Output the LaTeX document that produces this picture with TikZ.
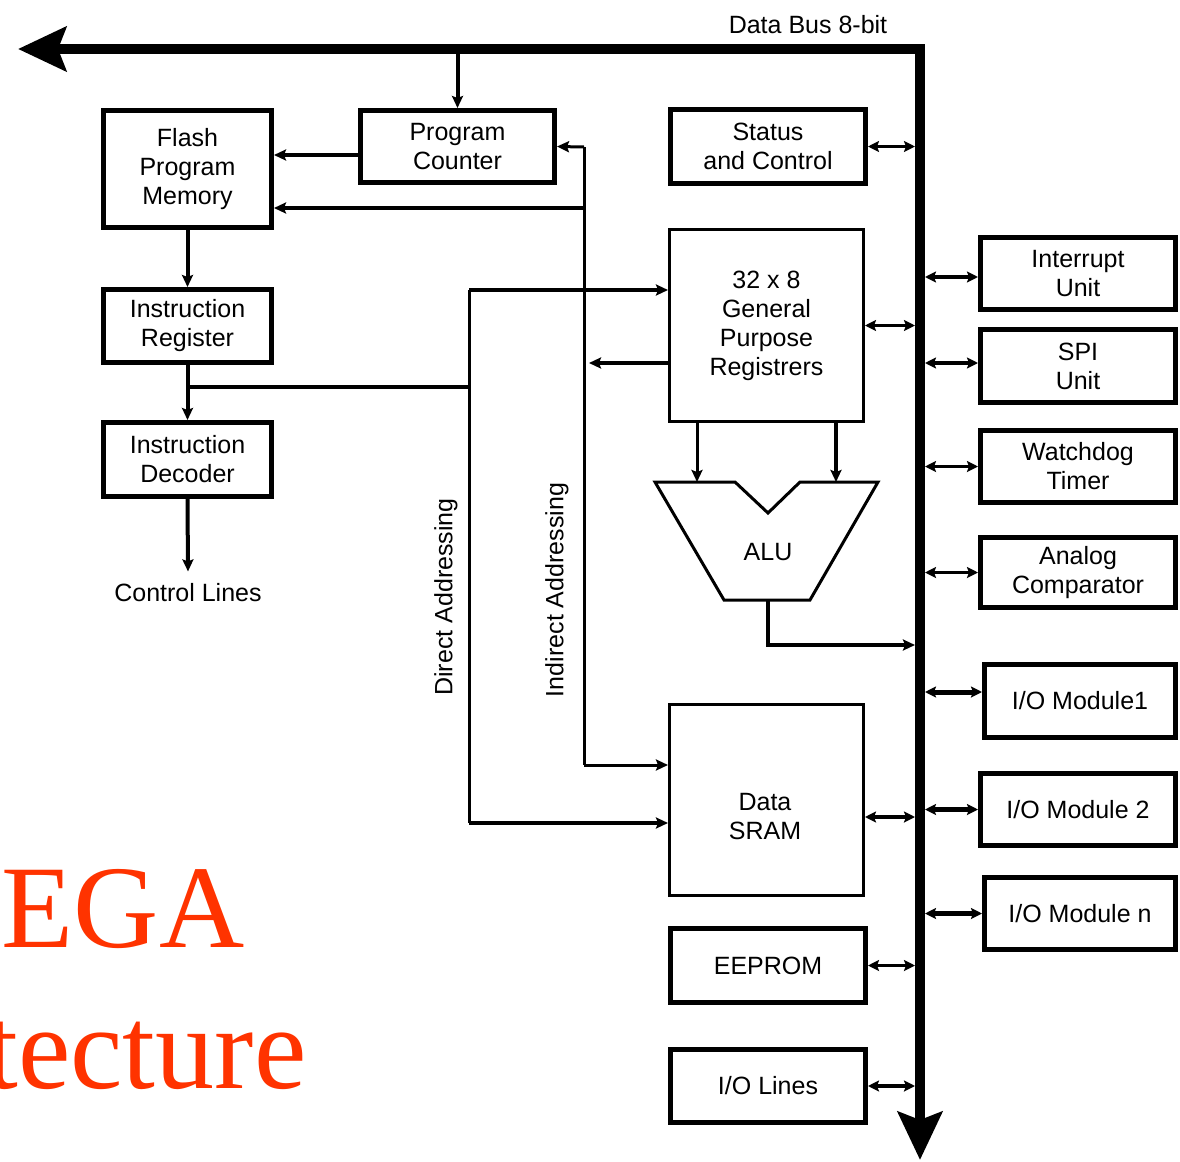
\documentclass[tikz,border=0pt]{standalone}
\usepackage{fontspec}
\setmainfont{Liberation Sans}
\newfontfamily\redserif{Liberation Serif}
\usetikzlibrary{arrows.meta}
\definecolor{slidered}{RGB}{255,51,0}
\begin{document}
\begin{tikzpicture}[x=0.5pt,y=-0.5pt,
  txt/.style={font=\fontsize{12.5}{14.5}\selectfont, align=center},
  tbox/.style={draw, line width=2.5pt, inner sep=0pt, txt},
  nbox/.style={draw, line width=1.5pt, inner sep=0pt, txt},
  ln/.style={line width=1.5pt},
  mid/.style={line width=2pt},
  arr/.style={-{Stealth[length=6pt,width=5.5pt,inset=1pt]}},
  dbl/.style={line width=1.75pt, {Stealth[length=5.5pt,width=5.5pt,inset=1pt]}-{Stealth[length=5.5pt,width=5.5pt,inset=1pt]}},
  bus/.style={line width=5pt, line join=miter, {Stealth[length=24pt,width=22pt,inset=4pt]}-{Stealth[length=24pt,width=22pt,inset=4pt]}},
  redtxt/.style={text=slidered, font=\redserif\fontsize{59}{60}\selectfont, inner sep=0pt}
]
\useasboundingbox (0,0) rectangle (1180,1162);
\clip (0,0) rectangle (1180,1162);

% title fragments
\node[redtxt, anchor=base west] (t1) at (1.5,947) {EGA};
\node[redtxt, anchor=base west] (t2) at (-15,1088) {tecture};

% data bus
\coordinate (busL) at (18,49);
\coordinate (busC) at (920,49);
\coordinate (busB) at (920,1160);
\draw[bus] (busL) -- (busC) -- (busB);
\node[txt] (buslbl) at (808,25) {Data Bus 8-bit};
\coordinate (bl) at (915,0);
\coordinate (br) at (925,0);

% left column
\node[tbox, minimum width=84pt, minimum height=58.5pt] (flash) at (187.5,169) {Flash\\Program\\Memory};
\node[tbox, minimum width=97pt, minimum height=36pt] (pc) at (457.5,146.5) {Program\\Counter};
\node[tbox, minimum width=84pt, minimum height=36.5pt] (ir) at (187.5,326) {Instruction\\Register};
\node[tbox, minimum width=84pt, minimum height=37pt] (id) at (187.5,459.5) {Instruction\\Decoder};
\node[txt, inner sep=0pt] (ctl) at (188,593) {Control Lines};

% middle column
\node[tbox, minimum width=97.5pt, minimum height=37pt] (status) at (768,146.5) {Status\\and Control};
\node[nbox, minimum width=97pt, minimum height=96pt] (gpr) at (766.5,325.5) {32 x 8\\General\\Purpose\\Registrers};
\node[nbox, minimum width=97pt, minimum height=95.5pt] (sram) at (766.5,800) {};
\node[txt] (sramlbl) at (765,817) {Data\\SRAM};
\node[tbox, minimum width=97.5pt, minimum height=37pt] (eeprom) at (768,965.5) {EEPROM};
\node[tbox, minimum width=97.5pt, minimum height=36.5pt] (iol) at (768,1086) {I/O Lines};

% ALU
\draw[ln, line join=miter] (655,482) -- (735,482) -- (768,513) -- (800,482) -- (878,482) -- (810,600) -- (724,600) -- cycle;
\node[txt] (alu) at (768,552) {ALU};
\coordinate (aluin1) at (697,482);
\coordinate (aluin2) at (836,482);
\coordinate (aluout) at (768,600);
\coordinate (alubus) at (915,645);

% right column
\node[tbox, minimum width=97.5pt, minimum height=36pt] (intr) at (1078,273.5) {Interrupt\\Unit};
\node[tbox, minimum width=97.5pt, minimum height=36.5pt] (spi) at (1078,366) {SPI\\Unit};
\node[tbox, minimum width=97.5pt, minimum height=36pt] (wdt) at (1078,466.5) {Watchdog\\Timer};
\node[tbox, minimum width=97.5pt, minimum height=35pt] (ac) at (1078,572.5) {Analog\\Comparator};
\node[tbox, minimum width=95.5pt, minimum height=36.5pt] (io1) at (1080,701) {I/O Module1};
\node[tbox, minimum width=97.5pt, minimum height=36pt] (io2) at (1078,809.5) {I/O Module 2};
\node[tbox, minimum width=95.5pt, minimum height=36pt] (ion) at (1080,913.5) {I/O Module n};

% addressing labels
\node[txt, rotate=90] (dirlbl) at (446,597) {Direct Addressing};
\node[txt, rotate=90] (indlbl) at (557,590) {Indirect Addressing};

% program flow
\draw[mid, arr] (pc.north |- busC) -- (pc.north);
\draw[mid, arr] (pc.west |- flash.east) ++(0,-14) coordinate (pcw) -- (pcw -| flash.east);
\draw[mid, arr] (flash.south) -- (ir.north);
\draw[mid, arr] (ir.south) -- (id.north);
\draw[mid, arr] (id.south) -- ([yshift=6pt]ctl.north);

% indirect addressing
\coordinate (ind1) at (584,147);
\coordinate (ind2) at (584,208);
\coordinate (ind3) at (584,765);
\draw[ln] (ind1) -- (ind3);
\draw[ln, arr] (ind1) -- (pc.east);
\draw[mid, arr] (ind2) -- (flash.east |- ind2);
\draw[ln, arr] (ind3) -- (sram.west |- ind3);

% direct addressing
\coordinate (dir0) at (187.5,387);
\coordinate (dir1) at (469,387);
\coordinate (dirT) at (469,290);
\coordinate (dirB) at (469,823);
\draw[mid] (dir0) -- (dir1);
\draw[ln] (dirT) -- (dirB);
\draw[mid, arr] (dirT) -- (gpr.west |- dirT);
\draw[mid, arr] (dirB) -- (sram.west |- dirB);

% registers
\coordinate (gout) at (589,363);
\draw[mid, arr] (gpr.west |- gout) -- (gout);
\draw[ln, arr] (gpr.south -| aluin1) -- (aluin1);
\draw[mid, arr] (gpr.south -| aluin2) -- (aluin2);
\draw[mid, arr] (aluout) |- (alubus);

% bus connections, left side
\coordinate (sramR) at ([yshift=-8.5pt]sram.east);
\draw[dbl] (status.east) -- (status.east -| bl);
\draw[dbl] (gpr.east) -- (gpr.east -| bl);
\draw[dbl] (sramR) -- (sramR -| bl);
\draw[dbl] (eeprom.east) -- (eeprom.east -| bl);
\draw[dbl] (iol.east) -- (iol.east -| bl);

% bus connections, right side
\coordinate (intrL) at ([yshift=-1.75pt]intr.west);
\coordinate (spiL) at ([yshift=1.5pt]spi.west);
\coordinate (io1L) at ([yshift=4.5pt]io1.west);
\draw[dbl] (intrL -| br) -- (intrL);
\draw[dbl] (spiL -| br) -- (spiL);
\draw[dbl] (wdt.west -| br) -- (wdt.west);
\draw[dbl] (ac.west -| br) -- (ac.west);
\draw[dbl, line width=2.5pt] (io1L -| br) -- (io1L);
\draw[dbl, line width=2.5pt] (io2.west -| br) -- (io2.west);
\draw[dbl, line width=2.5pt] (ion.west -| br) -- (ion.west);
\end{tikzpicture}
\end{document}
